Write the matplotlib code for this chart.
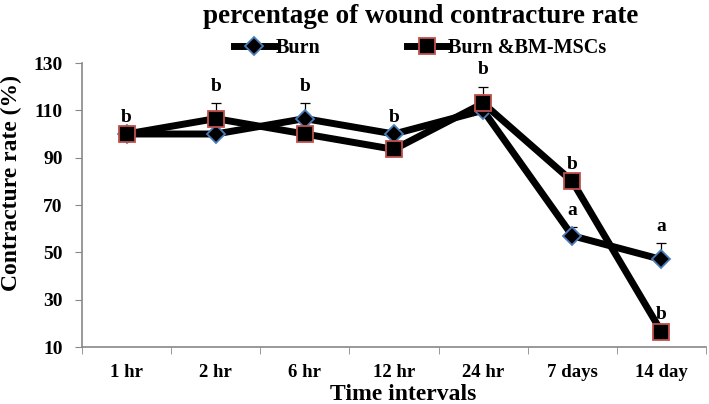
import matplotlib
matplotlib.use("Agg")
import matplotlib.pyplot as plt
import numpy as np

categories = ["1 hr", "2 hr", "6 hr", "12 hr", "24 hr", "7 days", "14 day"]
burn = [100, 100, 106.5, 100, 110, 57, 47]
burn_err = [0, 0, 6.5, 0, 0, 3.5, 7]
bm = [100, 106.5, 100, 93.5, 113, 80, 16.5]
bm_err = [0, 6.5, 0, 0, 7, 0, 0]
labels_burn = ["", "", "b", "b", "", "a", "a"]
labels_bm = ["b", "b", "", "", "b", "b", "b"]

plt.rcParams['font.family'] = ['Liberation Serif', 'DejaVu Serif']
plt.rcParams['font.weight'] = 'bold'

W, H = 709, 404
fig = plt.figure(figsize=(7.09, 4.04), dpi=100)
ax = fig.add_axes([82/W, 1-347/H, (706-82)/W, (347-63)/H])

x = np.arange(len(categories))
blue = '#4a7ebb'
red = '#c0504d'

ax.errorbar(x, burn, yerr=[np.zeros(len(x)), burn_err], fmt='none', ecolor='black',
            elinewidth=0.9, capsize=3.5, capthick=0.9, zorder=1)
ax.errorbar(x, bm, yerr=[np.zeros(len(x)), bm_err], fmt='none', ecolor='black',
            elinewidth=0.9, capsize=3.5, capthick=0.9, zorder=1)

ax.plot(x, burn, color='black', lw=5, marker='D', markersize=9,
        markerfacecolor='black', markeredgecolor=blue, markeredgewidth=1.3,
        label='Burn', zorder=2, solid_joinstyle='miter')
ax.plot(x, bm, color='black', lw=5, marker='s', markersize=11.5,
        markerfacecolor='black', markeredgecolor=red, markeredgewidth=1.3,
        label='Burn &BM-MSCs', zorder=3, solid_joinstyle='miter')

# significance letters
for i, t in enumerate(labels_bm):
    if t:
        top = bm[i] + bm_err[i]
        ax.text(i, top + 3.5, t, ha='center', va='bottom', fontsize=14, fontweight='bold')
for i, t in enumerate(labels_burn):
    if t:
        top = burn[i] + burn_err[i]
        ax.text(i, top + 3.5, t, ha='center', va='bottom', fontsize=14, fontweight='bold')

ax.set_xlim(-0.5, len(categories) - 0.5)
ax.set_ylim(10, 130)
ax.set_yticks(np.arange(10, 131, 20))
ax.set_xticks(x)
ax.set_xticklabels(categories)
ax.set_xticks(np.arange(-0.5, len(categories), 1), minor=True)
ax.tick_params(axis='x', which='major', length=0, pad=12, labelsize=13.5)
ax.tick_params(axis='x', which='minor', length=5, color='#888888', direction='out')
ax.tick_params(axis='y', length=5, color='#888888', direction='out', labelsize=14, pad=9)
for lab in ax.get_xticklabels() + ax.get_yticklabels():
    lab.set_fontweight('bold')

for s in ['top', 'right']:
    ax.spines[s].set_visible(False)
for s in ['left', 'bottom']:
    ax.spines[s].set_color('#888888')
    ax.spines[s].set_linewidth(1.2)

fig.text(403/W, 1-395/H, 'Time intervals', ha='center', va='center',
         fontsize=17, fontweight='bold')
fig.text(11/W, 1-183/H, 'Contracture rate (%)', ha='center', va='center',
         rotation=90, fontsize=17, fontweight='bold')

fig.text(0.594, 0.958, 'percentage of wound contracture rate', ha='center', va='center',
         fontsize=19.5, fontweight='bold')

leg = fig.legend(loc='center', bbox_to_anchor=(0.593, 0.88), ncol=2, frameon=False,
                 handlelength=2.0, columnspacing=4.3, handletextpad=0.05,
                 prop={'weight': 'bold', 'size': 14.5})

fig.savefig('out.png', dpi=100)
